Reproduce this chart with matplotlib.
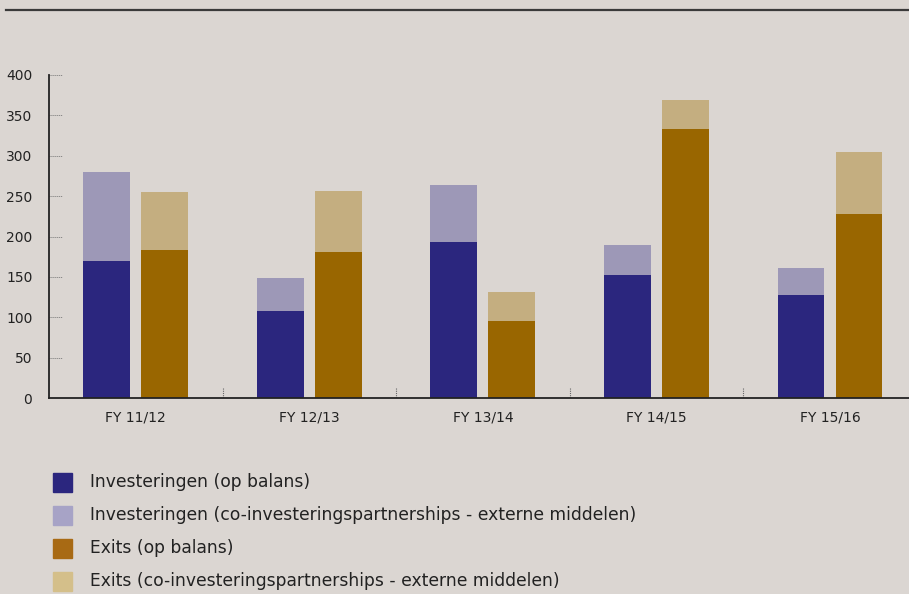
#!/usr/bin/env python3

import numpy as np
import matplotlib
matplotlib.use('Agg')
import matplotlib.pyplot as plt
from matplotlib.patches import Rectangle
from matplotlib.lines import Line2D

years = ['FY 11/12', 'FY 12/13', 'FY 13/14', 'FY 14/15', 'FY 15/16']
inv_balans = [170, 108, 193, 152, 128]
inv_partners = [110, 41, 71, 38, 33]
exit_balans = [183, 181, 95, 333, 228]
exit_partners = [72, 75, 36, 36, 77]

legend_labels = [
    'Investeringen (op balans)',
    'Investeringen (co-investeringspartnerships - externe middelen)',
    'Exits (op balans)',
    'Exits (co-investeringspartnerships - externe middelen)',
]

bg = '#dbd6d2'
bar_colors = ['#2b267e', '#9d98b7', '#996600', '#c4ae80']
legend_colors = ['#2b267e', '#a7a3c6', '#a86a14', '#d4bf8a']
ink = '#222222'

plt.rcParams['font.family'] = ['DejaVu Sans']

fig = plt.figure(figsize=(9.09, 5.94), dpi=100, facecolor=bg)
W, H = 909, 594
ax = fig.add_axes([49 / W, 1 - 398 / H, 1 - 49 / W, (398 - 75) / H])
ax.set_facecolor(bg)

x = np.arange(len(years))
width = 0.27
off = 0.167
ax.bar(x - off, inv_balans, width, color=bar_colors[0])
ax.bar(x - off, inv_partners, width, bottom=inv_balans, color=bar_colors[1])
ax.bar(x + off, exit_balans, width, color=bar_colors[2])
ax.bar(x + off, exit_partners, width, bottom=exit_balans, color=bar_colors[3])

ax.set_xlim(-0.5, 4.455)
ax.set_ylim(0, 400)

for s in ['top', 'right']:
    ax.spines[s].set_visible(False)
for s in ['left', 'bottom']:
    ax.spines[s].set_color(ink)
    ax.spines[s].set_linewidth(1.3)

yt = np.arange(0, 401, 50)
ax.set_yticks(yt)
ax.set_yticklabels([str(v) for v in yt], fontsize=10, color=ink)
ax.tick_params(axis='y', length=0, pad=12)
# short dotted inward ticks
ax.hlines(yt[1:], 0, 13 / 860, transform=ax.get_yaxis_transform(),
          colors='#777777', linestyles=(0, (1, 1)), linewidth=0.7)

ax.set_xticks(x)
ax.set_xticklabels(years, fontsize=10, color=ink)
ax.tick_params(axis='x', length=0, pad=9)
bounds = np.arange(0.5, 4.5, 1.0)
ax.vlines(bounds, 0, 10 / 323, transform=ax.get_xaxis_transform(),
          colors='#666666', linestyles=(0, (1, 1)), linewidth=0.8)

# top rule
fig.add_artist(Line2D([6 / W, 1], [1 - 9.5 / H, 1 - 9.5 / H], color='#3a3a3a', linewidth=1.6))

# legend
for i, (lab, c) in enumerate(zip(legend_labels, legend_colors)):
    yc = 482 + 33 * i
    fig.add_artist(Rectangle((53 / W, 1 - (yc + 9.5) / H), 19 / W, 19 / H,
                             transform=fig.transFigure, color=c))
    fig.text(90 / W, 1 - yc / H, lab, fontsize=12.3, color=ink, va='center', ha='left')

fig.savefig('out.png', dpi=100, facecolor=bg)
